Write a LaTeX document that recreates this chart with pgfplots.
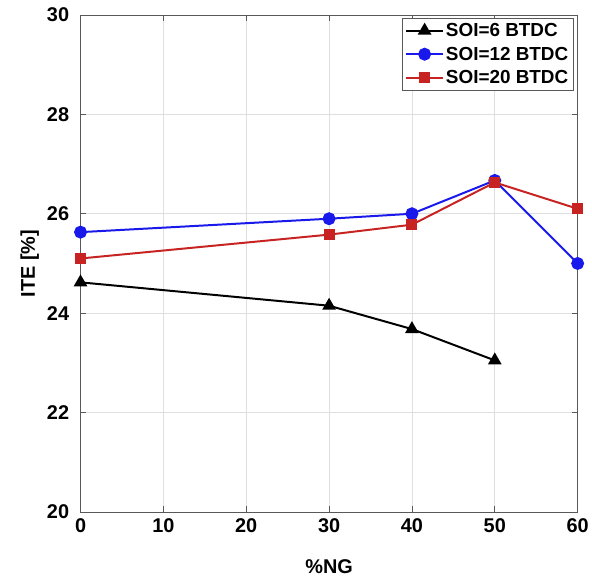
\documentclass[border=0pt]{standalone}
\usepackage{pgfplots}
\pgfplotsset{compat=1.18}
\usepackage{fontspec}
\setmainfont{Liberation Sans}
\definecolor{myblue}{RGB}{25,25,235}
\definecolor{myred}{RGB}{200,35,35}
\begin{document}
\begin{tikzpicture}
\begin{axis}[
  scale only axis,
  width=500pt, height=500pt,
  xmin=0, xmax=60, ymin=20, ymax=30,
  xtick={0,10,...,60}, ytick={20,22,...,30},
  grid=major,
  major grid style={draw=gray!25, line width=0.6pt},
  axis line style={draw=gray!70!black, line width=0.8pt},
  tick style={draw=gray!70!black, line width=0.6pt},
  tick align=inside,
  major tick length=6pt,
  /pgf/number format/assume math mode=true,
  tick label style={font=\fontsize{20}{23}\selectfont\bfseries},
  xticklabel style={yshift=-3pt},
  yticklabel style={xshift=-8pt},
  xlabel={\%NG}, ylabel={ITE [\%]},
  xlabel style={at={(axis description cs:0.5,-0.11)}, anchor=center, font=\fontsize{20}{24}\selectfont\bfseries},
  ylabel style={at={(axis description cs:-0.102,0.5)}, anchor=center, font=\fontsize{20}{24}\selectfont\bfseries},
  legend style={at={(0.992,0.994)}, anchor=north east, draw=gray!70!black, line width=0.8pt,
    font=\fontsize{19}{22}\selectfont\bfseries, row sep=5pt, inner sep=3pt},
  legend cell align=left,
  legend image code/.code={\draw[mark repeat=2,mark phase=2] plot coordinates {(0cm,0cm) (0.65cm,0cm) (1.3cm,0cm)};},
  every axis plot/.append style={line width=2pt},
]
\addplot[black, mark=triangle*, mark size=6pt] coordinates {(0,24.62) (30,24.15) (40,23.68) (50,23.05)};
\addlegendentry{SOI=6 BTDC}
\addplot[myblue, mark=*, mark size=5.5pt] coordinates {(0,25.63) (30,25.9) (40,26.0) (50,26.67) (60,25.0)};
\addlegendentry{SOI=12 BTDC}
\addplot[myred, mark=square*, mark size=4.5pt] coordinates {(0,25.1) (30,25.58) (40,25.78) (50,26.63) (60,26.1)};
\addlegendentry{SOI=20 BTDC}
\end{axis}
\path (current axis.south west) ++(-81pt,-65pt);
\path (current axis.north east) ++(11pt,15pt);
\end{tikzpicture}
\end{document}
